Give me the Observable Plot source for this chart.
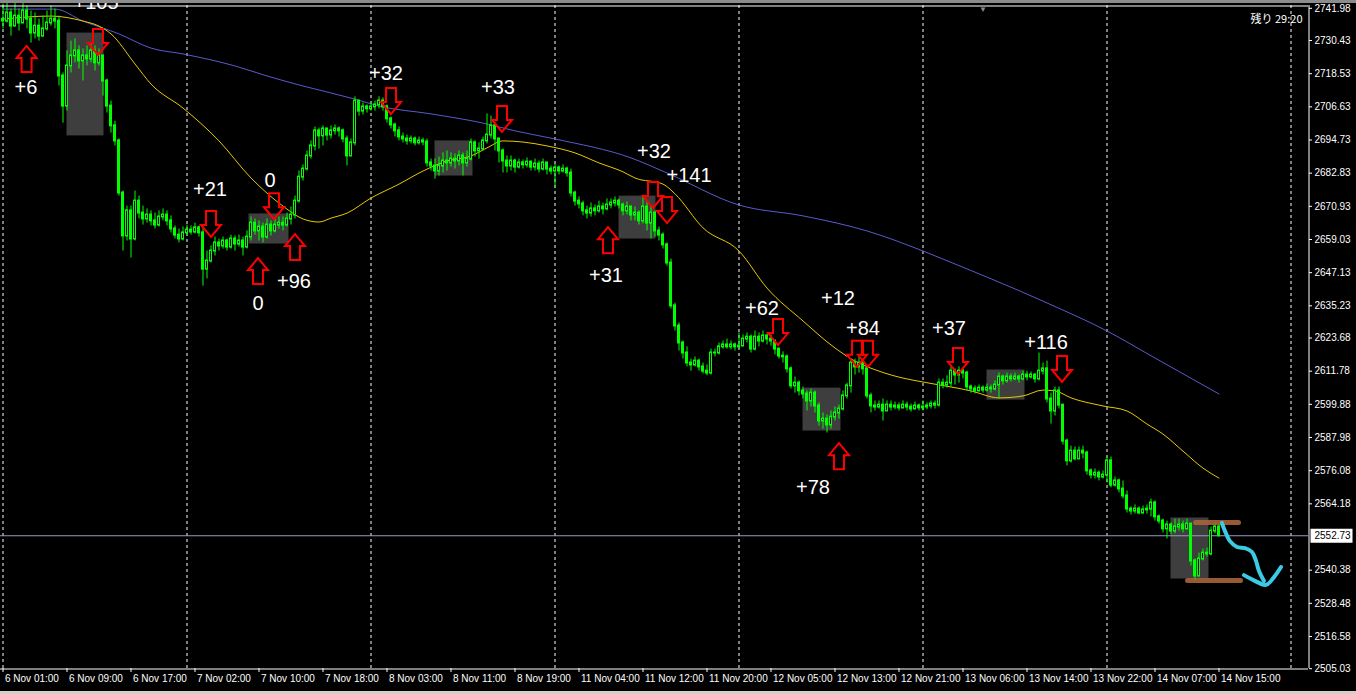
<!DOCTYPE html>
<html><head><meta charset="utf-8">
<script src="https://cdn.jsdelivr.net/npm/d3@7"></script>
<script src="https://cdn.jsdelivr.net/npm/@observablehq/plot@0.6"></script>
<style>
html,body{margin:0;padding:0;background:#000;}
#wrap{position:relative;width:1356px;height:694px;overflow:hidden;background:#000;}
#chart{position:absolute;left:0;top:0;}
#topbar{position:absolute;left:0;top:0;width:1356px;height:3px;background:#8c8c8c;}
#botbar{position:absolute;left:0;top:691px;width:1356px;height:3px;background:#d4d0c8;}
</style></head><body>
<div id="wrap"><div id="chart"></div><div id="topbar"></div><div id="botbar"></div></div>
<script>
// ---- price data (M30 bars, index 0 = 6 Nov 01:00) ----
const firstOpen = 2738.0;
const closes = [
2737.4,2740.3,2735.6,2739.2,2736.7,2741.0,2738.1,2733.1,2735.6,2732.0,2734.6,2736.7,2738.1,2737.4,
2717.7,2706.9,2721.3,2724.9,2726.7,2723.1,2724.9,2723.8,2726.7,2722.4,2724.9,2715.9,2706.9,2699.8,2694.4,2675.7,
2660.3,2669.3,2659.2,2672.8,2668.5,2666.4,2667.8,2665.7,2664.2,2667.1,2667.8,2665.7,2662.8,2660.6,2659.2,2661.4,
2662.4,2661.7,2663.2,2661.4,2648.4,2651.3,2654.9,2657.8,2656.7,2658.5,2656.3,2659.2,2657.4,2658.5,2656.3,2659.9,
2664.9,2662.1,2663.5,2659.9,2664.2,2662.1,2664.2,2664.9,2664.2,2666.4,2667.8,2672.8,2681.4,2684.3,2689.0,2692.6,
2698.0,2696.2,2698.7,2696.5,2698.0,2698.7,2698.0,2695.1,2689.0,2693.7,2708.7,2705.1,2706.6,2705.9,
2706.6,2707.3,2708.7,2706.6,2702.3,2700.1,2698.0,2695.8,2695.1,2694.4,2695.1,2693.7,2694.4,2694.0,
2686.5,2685.4,2683.6,2685.4,2687.2,2686.5,2687.9,2687.2,2689.0,2686.5,2687.9,2693.7,2690.8,2691.5,2694.4,2696.5,
2699.8,2695.1,2690.8,2687.2,2685.4,2687.2,2685.0,2686.5,2685.8,2686.8,2685.0,2686.1,2684.3,2686.5,2684.3,2683.6,
2684.7,2683.6,2684.3,2682.9,2675.7,2672.8,2671.8,2669.3,2668.5,2670.0,2669.3,2670.7,2670.0,2671.4,2672.1,2672.8,
2671.4,2669.3,2670.7,2667.8,2668.5,2665.7,2670.7,2664.9,2668.5,2662.1,2660.6,2657.1,2650.6,2635.2,2628.0,2621.9,
2618.3,2614.7,2614.0,2615.4,2613.3,2611.8,2611.1,2618.3,2618.3,2620.5,2621.2,2620.5,2621.2,2620.5,
2620.8,2623.3,2624.0,2619.7,2624.0,2622.6,2624.4,2623.3,2622.6,2619.7,2617.2,2616.9,2612.6,2606.5,2607.5,2604.7,
2603.6,2601.1,2603.9,2599.3,2593.9,2594.6,2592.5,2595.3,2596.8,2598.2,2602.9,2606.5,2614.7,2613.3,2614.7,2612.6,
2602.9,2599.3,2598.9,2599.6,2597.5,2599.6,2598.9,2599.3,2598.6,2599.6,2598.9,2598.2,2599.3,2598.6,
2598.9,2599.3,2600.0,2599.6,2607.5,2606.8,2607.5,2611.8,2610.4,2611.8,2611.1,2606.1,2605.4,2604.7,2605.7,2605.0,
2605.7,2605.4,2606.8,2609.7,2608.3,2609.7,2609.0,2609.7,2609.0,2610.4,2609.7,2610.4,2609.0,2611.8,2612.6,2601.8,
2597.5,2604.7,2599.6,2586.7,2579.6,2583.1,2580.3,2583.1,2582.4,2576.0,2574.5,2575.2,2573.8,2574.5,
2579.6,2570.9,2572.4,2569.5,2567.0,2562.3,2561.6,2562.3,2560.9,2562.0,2562.3,2564.5,2559.5,2558.0,2555.2,2556.6,
2554.4,2555.9,2556.6,2555.2,2556.9,2543.7,2538.3,2544.4,2546.5,2546.2,2554.4,2555.9,2552.73
];
const highs = [
2743.5,2744.6,2741.7,2743.9,2741.7,2746.4,2742.8,2741.0,2740.3,2738.1,2739.2,2741.0,2742.8,2741.7,
2739.2,2718.8,2726.7,2730.2,2731.0,2728.5,2727.4,2728.5,2729.5,2728.5,2727.4,2724.9,2716.6,2708.7,2701.5,2695.1,
2676.4,2671.0,2671.0,2676.4,2674.6,2671.0,2670.0,2669.3,2668.5,2669.3,2670.0,2669.3,2667.5,2663.9,2662.8,2663.5,
2664.2,2663.9,2664.9,2663.9,2662.8,2654.9,2656.7,2659.9,2659.2,2659.9,2659.2,2660.6,2660.3,2660.6,2659.9,2662.1,
2667.1,2666.4,2665.7,2664.9,2666.4,2665.7,2666.4,2667.1,2667.1,2668.5,2670.7,2674.6,2683.6,2685.8,2690.8,2694.4,
2699.4,2699.0,2699.8,2698.7,2699.8,2700.1,2699.4,2698.7,2696.2,2695.1,2710.2,2708.7,2708.0,2707.3,
2708.0,2708.7,2710.2,2709.8,2707.3,2703.0,2700.8,2699.4,2697.2,2696.5,2696.2,2695.8,2695.8,2695.4,
2695.1,2687.9,2687.9,2688.6,2690.1,2690.8,2690.1,2689.7,2690.8,2690.1,2690.8,2695.1,2694.4,2693.7,2695.8,2704.1,
2703.3,2700.8,2694.4,2691.5,2689.0,2689.0,2687.9,2687.9,2687.6,2688.3,2687.2,2687.9,2687.2,2687.9,2686.1,2685.4,
2686.1,2685.4,2685.8,2685.0,2684.3,2676.4,2674.3,2672.8,2671.0,2672.1,2671.4,2672.8,2672.1,2673.6,2673.6,2674.3,
2673.6,2672.1,2672.5,2671.0,2670.7,2669.3,2674.6,2672.8,2671.0,2669.3,2663.5,2661.4,2657.8,2652.0,2636.2,2629.1,
2622.6,2620.5,2616.1,2616.9,2616.1,2614.7,2614.0,2619.7,2619.7,2621.9,2622.6,2623.3,2622.6,2621.9,
2625.5,2624.8,2625.5,2624.8,2626.2,2625.5,2626.2,2625.1,2624.8,2622.6,2620.1,2618.7,2617.6,2613.3,2609.7,2608.3,
2606.1,2604.7,2605.4,2604.7,2600.4,2596.8,2596.1,2597.5,2598.9,2599.6,2604.7,2607.5,2616.1,2616.1,2616.9,2615.4,
2613.6,2603.9,2601.1,2601.1,2601.8,2601.1,2601.1,2600.7,2600.4,2601.1,2600.7,2600.0,2600.7,2600.0,
2601.1,2600.4,2601.1,2601.1,2609.0,2609.0,2610.1,2613.3,2612.6,2613.3,2612.6,2611.8,2606.8,2606.5,2606.8,2606.5,
2607.2,2606.8,2608.3,2611.1,2610.4,2611.1,2610.8,2611.1,2610.4,2611.8,2611.8,2611.5,2610.8,2618.3,2614.7,2615.4,
2603.9,2606.1,2606.1,2596.1,2587.4,2584.9,2584.6,2584.6,2584.9,2583.1,2576.7,2576.7,2576.0,2576.0,
2581.0,2581.0,2573.8,2573.1,2572.4,2568.8,2563.1,2563.8,2563.1,2563.4,2563.8,2565.9,2565.2,2560.2,2558.7,2558.0,
2557.3,2558.7,2558.7,2558.0,2558.7,2557.3,2544.4,2546.5,2548.0,2548.3,2555.9,2557.3,2556.6
];
const lows = [
2734.6,2736.7,2732.0,2735.6,2733.8,2737.4,2734.6,2729.5,2731.0,2730.2,2731.7,2733.8,2735.6,2734.6,
2714.1,2700.8,2705.1,2718.8,2722.4,2720.2,2715.9,2721.3,2722.4,2719.5,2721.3,2710.5,2704.4,2697.2,2692.6,2674.6,
2654.9,2658.5,2652.4,2658.5,2666.4,2664.2,2664.9,2663.9,2662.8,2663.5,2665.7,2663.9,2661.4,2659.2,2657.8,2658.5,
2660.3,2660.6,2661.0,2659.9,2642.3,2644.9,2650.6,2653.1,2654.9,2655.6,2654.9,2655.6,2654.9,2656.3,2653.1,2655.6,
2658.5,2660.6,2658.5,2657.8,2659.2,2660.3,2661.4,2662.8,2662.1,2663.5,2664.2,2666.4,2672.1,2680.0,2683.6,2687.9,
2690.8,2691.5,2692.6,2694.4,2695.1,2696.5,2695.8,2693.7,2685.4,2690.1,2692.6,2703.3,2703.7,2704.4,
2705.1,2705.1,2705.9,2705.1,2700.8,2698.7,2695.8,2694.4,2693.7,2692.9,2693.3,2692.6,2692.9,2692.6,
2685.0,2683.6,2680.7,2681.8,2682.9,2683.6,2685.0,2684.3,2685.4,2681.8,2685.0,2687.2,2688.6,2687.9,2690.8,2693.3,
2695.1,2690.8,2686.5,2682.9,2682.9,2683.6,2682.9,2684.3,2684.3,2684.7,2683.6,2683.6,2682.9,2683.6,2682.2,2682.2,
2677.5,2682.2,2682.9,2681.4,2674.3,2671.0,2670.0,2667.5,2666.4,2667.1,2667.5,2668.5,2667.8,2669.3,2670.0,2670.7,
2670.0,2667.5,2667.8,2665.7,2665.7,2664.2,2664.6,2662.1,2659.2,2659.9,2658.5,2655.6,2649.5,2634.1,2626.2,2619.0,
2616.1,2613.3,2611.8,2613.3,2611.8,2610.8,2610.1,2610.4,2616.9,2617.6,2619.7,2619.7,2619.4,2619.0,
2619.7,2620.8,2621.9,2618.3,2619.0,2620.5,2621.9,2621.2,2620.8,2617.6,2616.1,2614.7,2611.1,2605.4,2603.9,2602.9,
2601.8,2597.5,2598.9,2596.8,2592.1,2591.0,2589.6,2591.0,2593.9,2594.6,2597.5,2601.8,2603.9,2610.4,2611.1,2610.4,
2601.8,2596.8,2597.5,2598.2,2593.9,2597.5,2597.5,2597.9,2597.5,2598.2,2597.5,2597.1,2597.9,2597.5,
2597.5,2597.9,2598.2,2598.2,2598.9,2605.4,2605.7,2606.1,2606.8,2607.5,2609.0,2604.7,2603.9,2603.6,2604.3,2603.9,
2604.3,2603.9,2604.7,2601.8,2606.8,2607.5,2607.9,2608.3,2607.5,2608.3,2608.3,2609.0,2607.5,2608.3,2610.4,2600.4,
2592.8,2595.7,2598.2,2585.3,2577.8,2578.8,2579.6,2580.3,2580.3,2574.5,2573.1,2573.1,2572.4,2573.1,
2571.7,2569.9,2570.2,2568.1,2565.9,2560.9,2560.2,2560.5,2560.2,2560.5,2560.5,2559.5,2558.0,2556.9,2553.7,2551.6,
2553.0,2553.4,2554.4,2553.7,2554.8,2541.9,2536.5,2537.9,2543.7,2545.1,2545.5,2553.4,2552.3
];

// ---- moving averages (sampled bar index / value) ----
const yellowBars = [0,12,20,24,27,33,37,45,54,62,70,75,79,82,86,92,99,105,111,117,121,125,130,136,143,149,155,158,165,168,175,184,191,200,208,213,219,225,230,242,249,255,260,263,267,275,281,286,290,295,300,304];
const yellowVals = [2738.1,2739.2,2737.4,2735.6,2732.8,2722.0,2714.8,2706.2,2694.4,2681.1,2671.0,2666.4,2665.3,2666.7,2668.5,2673.9,2678.9,2683.6,2687.2,2689.0,2691.9,2694.4,2694.0,2692.6,2690.1,2686.5,2683.3,2681.1,2678.9,2675.4,2663.2,2654.9,2641.6,2629.8,2620.1,2615.4,2611.8,2609.3,2607.9,2604.7,2602.2,2602.9,2605.0,2604.7,2602.2,2599.3,2597.5,2592.8,2589.2,2583.1,2577.0,2573.4];
const blueBars = [0,13,20,29,37,45,58,66,75,88,94,107,120,128,138,157,166,184,200,216,230,235,260,276,288,304];
const blueVals = [2741.7,2741.7,2737.4,2732.8,2727.7,2725.6,2721.3,2717.7,2714.1,2709.4,2706.9,2704.1,2700.8,2698.0,2695.1,2688.3,2682.9,2671.4,2667.5,2662.1,2654.9,2652.0,2636.9,2626.2,2616.5,2603.6];

// ---- gray zones ----
const boxStart = [16, 61.5, 108, 154, 200, 246, 292];
const boxEnd = [25.25, 71.5, 117.5, 163.25, 209.5, 255.5, 301.5];
const boxTop = [2733.1, 2668.2, 2694.4, 2674.6, 2605.7, 2612.2, 2559.1];
const boxBottom = [2696.2, 2657.4, 2681.8, 2659.2, 2590.3, 2601.4, 2537.2];

// ---- signal arrows ----
const arrowBars = [5.9, 63.75, 73, 151.25, 209, 23.75, 52, 67.75, 97, 124.75, 162.5, 166, 193.75, 213.5, 216.25, 238.75, 264.75];
const arrowPrices = [2723.8, 2647.7, 2656.3, 2658.8, 2581.3, 2729.9, 2664.6, 2671.0, 2708.7, 2702.3, 2675.0, 2669.6, 2625.8, 2618.0, 2618.0, 2615.4, 2612.6];
const arrowDirs = ["up","up","up","up","up","down","down","down","down","down","down","down","down","down","down","down","down"];

// ---- result labels ----
const labelTexts = ["+6","+105","+21","0","0","+96","+32","+33","+31","+32","+141","+62","+78","+12","+84","+37","+116"];
const labelBars = [5.75, 23.25, 51.75, 66.75, 63.75, 72.75, 95.75, 123.75, 150.75, 162.75, 171.5, 189.75, 202.5, 208.75, 215, 236.5, 260.75];
const labelPrices = [2713.4, 2743.9, 2677.1, 2680.0, 2636.2, 2643.8, 2718.4, 2713.7, 2646.0, 2690.4, 2681.8, 2634.1, 2569.9, 2637.7, 2626.9, 2626.9, 2621.9];

// ---- hand drawn range + arrow ----
const levelStart = [298.25, 296.25];
const levelEnd = [309, 309.5];
const levelPrices = [2557.5, 2536.7];
const drawBars = [304.75, 305.5, 306.75, 308.5, 310.5, 312.25, 313.25, 314, 315.25];
const drawPrices = [2557.3, 2554.4, 2550.8, 2548.7, 2548.3, 2546.9, 2543.7, 2540.1, 2536.5];
const headBars = [310.25, 312.5, 315.75, 317.75, 319.5];
const headPrices = [2538.6, 2536.9, 2535.1, 2537.9, 2541.5];

// ---- axes ----
const yTicks = [2741.98,2730.43,2718.53,2706.63,2694.73,2682.83,2670.93,2659.03,2647.13,2635.23,2623.68,2611.78,2599.88,2587.98,2576.08,2564.18,2540.38,2528.48,2516.58,2505.03];
const currentPrice = 2552.73;
const xTickBars = [0,16,32,48,64,80,96,112,128,144,160,176,192,208,224,240,256,272,288,304];
const xTickLabels = ["6 Nov 01:00","6 Nov 09:00","6 Nov 17:00","7 Nov 02:00","7 Nov 10:00","7 Nov 18:00","8 Nov 03:00","8 Nov 11:00","8 Nov 19:00","11 Nov 04:00","11 Nov 12:00","11 Nov 20:00","12 Nov 05:00","12 Nov 13:00","12 Nov 21:00","13 Nov 06:00","13 Nov 14:00","13 Nov 22:00","14 Nov 07:00","14 Nov 15:00"];
const daySepBars = [0,46,92,138,184,230,276,322];
const remainText = "残り 29:20";
const shiftBar = 245;
const xDomain = [-0.5, 326.5];
const yDomain = [2504.92, 2742.81];

// ---- build tables ----
const bars = closes.map((c, i) => {
  const o = i === 0 ? firstOpen : closes[i - 1];
  return {i, open: o, close: c, high: Math.max(highs[i], o, c), low: Math.min(lows[i], o, c)};
});
const bull = bars.filter(d => d.close > d.open);
const bear = bars.filter(d => d.close <= d.open);
const yellow = yellowBars.map((b, k) => ({b, v: yellowVals[k]}));
const blue = blueBars.map((b, k) => ({b, v: blueVals[k]}));
const boxes = boxStart.map((s, k) => ({s, e: boxEnd[k], t: boxTop[k], b: boxBottom[k]}));
const arrows = arrowBars.map((b, k) => ({b, p: arrowPrices[k], dir: arrowDirs[k]}));
const labels = labelTexts.map((t, k) => ({t, b: labelBars[k], p: labelPrices[k]}));
const levels = levelPrices.map((p, k) => ({p, a: levelStart[k], z: levelEnd[k]}));
const stroke1 = drawBars.map((b, k) => ({b, p: drawPrices[k]}));
const stroke2 = headBars.map((b, k) => ({b, p: headPrices[k]}));

const upArrow = {draw(ctx) {ctx.moveTo(0,-13);ctx.lineTo(10,-1);ctx.lineTo(5,-1);ctx.lineTo(5,13);ctx.lineTo(-5,13);ctx.lineTo(-5,-1);ctx.lineTo(-10,-1);ctx.closePath();}};
const downArrow = {draw(ctx) {ctx.moveTo(0,13);ctx.lineTo(10,1);ctx.lineTo(5,1);ctx.lineTo(5,-13);ctx.lineTo(-5,-13);ctx.lineTo(-5,1);ctx.lineTo(-10,1);ctx.closePath();}};
const priceBox = {draw(ctx) {ctx.rect(2,-7,42,14);}};

const GREEN = "#00ff00";
const chart = Plot.plot({
  width: 1356, height: 694,
  marginTop: 5, marginBottom: 26, marginLeft: 0, marginRight: 48,
  style: {background: "#000", color: "#fff", fontFamily: "'Liberation Sans', Arial, sans-serif", fontSize: "10px", overflow: "hidden"},
  x: {domain: xDomain, range: [0.5, 1308.5], ticks: xTickBars, tickFormat: () => "", tickSize: 4, label: null},
  y: {domain: yDomain, range: [668.5, 5.5], axis: "right", ticks: yTicks, tickFormat: d => d.toFixed(2), tickSize: 3, tickPadding: 3, label: null},
  marks: [
    Plot.rect(boxes, {x1: "s", x2: "e", y1: "b", y2: "t", fill: "#3e3e3e"}),
    Plot.ruleX(daySepBars, {stroke: "#fff", strokeDasharray: "3,3", strokeWidth: 1}),
    Plot.ruleY([currentPrice], {stroke: "#9a9ac4", strokeWidth: 1}),
    Plot.line(blue, {x: "b", y: "v", stroke: "#5a5acc", strokeWidth: 1, curve: "monotone-x"}),
    Plot.line(yellow, {x: "b", y: "v", stroke: "#e8c800", strokeWidth: 1, curve: "monotone-x"}),
    Plot.ruleX(bars, {x: "i", y1: "low", y2: "high", stroke: GREEN, strokeWidth: 1}),
    Plot.rect(bear, {x1: d => d.i - 0.25, x2: d => d.i + 0.25, y1: "open", y2: "close", fill: GREEN, stroke: GREEN, strokeWidth: 1, insetTop: -0.5, insetBottom: -0.5}),
    Plot.rect(bull, {x1: d => d.i - 0.25, x2: d => d.i + 0.25, y1: "open", y2: "close", fill: "#000", stroke: GREEN, strokeWidth: 1, insetTop: -0.5, insetBottom: -0.5}),
    Plot.ruleY(levels, {y: "p", x1: "a", x2: "z", stroke: "#a8643a", strokeWidth: 5, strokeLinecap: "round", strokeOpacity: 0.9}),
    Plot.line(stroke1, {x: "b", y: "p", stroke: "#3ccbe4", strokeWidth: 4, curve: "catmull-rom", strokeLinecap: "round", strokeLinejoin: "round"}),
    Plot.line(stroke2, {x: "b", y: "p", stroke: "#3ccbe4", strokeWidth: 4, curve: "catmull-rom", strokeLinecap: "round", strokeLinejoin: "round"}),
    Plot.dot(arrows.filter(d => d.dir === "up"), {x: "b", y: "p", symbol: upArrow, stroke: "#ff0000", strokeWidth: 2, fill: "none"}),
    Plot.dot(arrows.filter(d => d.dir === "down"), {x: "b", y: "p", symbol: downArrow, stroke: "#ff0000", strokeWidth: 2, fill: "none"}),
    Plot.text(labels, {x: "b", y: "p", text: "t", fill: "#fff", fontSize: 20, fontFamily: "'Liberation Sans', Arial, sans-serif"}),
    Plot.ruleY([yDomain[1]], {stroke: "#fff"}),
    Plot.ruleY([yDomain[0]], {stroke: "#fff"}),
    Plot.ruleX([xDomain[1]], {stroke: "#fff"}),
    Plot.dot([currentPrice], {y: d => d, frameAnchor: "right", symbol: priceBox, fill: "#fff", stroke: "none"}),
    Plot.text([currentPrice], {y: d => d, frameAnchor: "right", text: d => d.toFixed(2), textAnchor: "start", dx: 6, fill: "#000", fontSize: 10}),
    Plot.text([remainText], {frameAnchor: "top-right", text: d => d, textAnchor: "end", dx: -6, dy: 10, fill: "#fff", fontSize: 11, fontFamily: "'Noto Sans CJK JP', sans-serif"}),
    Plot.text(["▼"], {x: () => shiftBar, frameAnchor: "top", text: d => d, dy: 1, fill: "#8a8a8a", fontSize: 8}),
    Plot.text(xTickBars, {x: d => d, frameAnchor: "bottom", text: (d, k) => xTickLabels[k], textAnchor: "start", dx: 2, dy: 13, fill: "#fff", fontSize: 10})
  ]
});
document.getElementById("chart").appendChild(chart);
</script>
</body></html>
